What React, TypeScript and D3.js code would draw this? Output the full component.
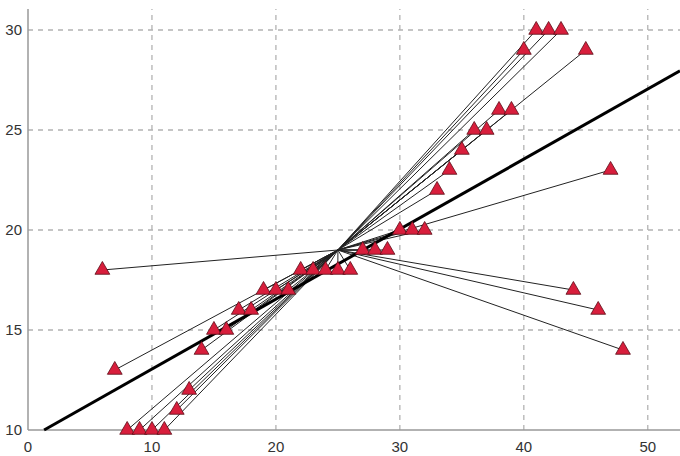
import * as d3 from 'd3';
import React, { useEffect, useRef } from 'react';

// data
const pointsX = [41, 42, 43, 40, 45, 38, 39, 36, 37, 35, 34, 47, 33, 30, 31, 32, 27, 28, 29,
  6, 22, 23, 24, 25, 26, 19, 20, 21, 44, 17, 18, 46, 15, 16, 14, 48, 7, 13, 12, 8, 9, 10, 11];
const pointsY = [30, 30, 30, 29, 29, 26, 26, 25, 25, 24, 23, 23, 22, 20, 20, 20, 19, 19, 19,
  18, 18, 18, 18, 18, 18, 17, 17, 17, 17, 16, 16, 16, 15, 15, 14, 14, 13, 12, 11, 10, 10, 10, 10];
const hub = [25, 19];
const fitIntercept = 9.545;
const fitSlope = 0.35;
const xTicks = [0, 10, 20, 30, 40, 50];
const yTicks = [10, 15, 20, 25, 30];

const W = 680;
const H = 456;

const App = () => {
  const ref = useRef(null);

  useEffect(() => {
    const svg = d3.select(ref.current);
    svg.selectAll('*').remove();

    const x = d3.scaleLinear().domain([0, 52.6]).range([28, 680]);
    const y = d3.scaleLinear().domain([10, 31.05]).range([430, 9]);

    // grid
    const grid = svg.append('g')
      .attr('stroke', '#b3b3b3')
      .attr('stroke-width', 1.3)
      .attr('stroke-dasharray', '5,5');
    grid.selectAll('.gx').data(xTicks.filter(d => d > 0)).enter().append('line')
      .attr('x1', d => x(d)).attr('x2', d => x(d))
      .attr('y1', y.range()[0]).attr('y2', y.range()[1]);
    grid.selectAll('.gy').data(yTicks.filter(d => d > 10)).enter().append('line')
      .attr('y1', d => y(d)).attr('y2', d => y(d))
      .attr('x1', x.range()[0]).attr('x2', x.range()[1]);

    // axes
    svg.append('line')
      .attr('x1', x(0)).attr('x2', x(0)).attr('y1', y.range()[0]).attr('y2', y.range()[1])
      .attr('stroke', '#999').attr('stroke-width', 1.5);
    svg.append('line')
      .attr('x1', x(0)).attr('x2', x.range()[1]).attr('y1', y(10)).attr('y2', y(10))
      .attr('stroke', '#999').attr('stroke-width', 1.5);

    svg.append('g').selectAll('text').data(xTicks).enter().append('text')
      .attr('x', d => x(d)).attr('y', 452)
      .attr('text-anchor', 'middle')
      .attr('font-family', 'Liberation Sans, Arial, sans-serif')
      .attr('font-size', 15).attr('fill', '#333')
      .text(d => d);
    svg.append('g').selectAll('text').data(yTicks).enter().append('text')
      .attr('x', 22).attr('y', d => y(d) + 5)
      .attr('text-anchor', 'end')
      .attr('font-family', 'Liberation Sans, Arial, sans-serif')
      .attr('font-size', 15).attr('fill', '#333')
      .text(d => d);

    const pts = pointsX.map((v, i) => [v, pointsY[i]]);

    // spokes to hub
    svg.append('g').selectAll('line').data(pts).enter().append('line')
      .attr('x1', x(hub[0])).attr('y1', y(hub[1]))
      .attr('x2', d => x(d[0])).attr('y2', d => y(d[1]))
      .attr('stroke', '#222').attr('stroke-width', 1);

    // fitted line
    const xStart = (10 - fitIntercept) / fitSlope;
    const xEnd = x.domain()[1];
    svg.append('line')
      .attr('x1', x(xStart)).attr('y1', y(fitIntercept + fitSlope * xStart))
      .attr('x2', x(xEnd)).attr('y2', y(fitIntercept + fitSlope * xEnd))
      .attr('stroke', '#000').attr('stroke-width', 3);

    // markers
    const tri = d3.symbol().type(d3.symbolTriangle).size(95);
    svg.append('g').selectAll('path').data(pts).enter().append('path')
      .attr('d', tri)
      .attr('transform', d => `translate(${x(d[0])},${y(d[1])})`)
      .attr('fill', '#d81e3c')
      .attr('stroke', '#5a0c16')
      .attr('stroke-width', 0.8);
  }, []);

  return (
    <div>
      <svg ref={ref} width={W} height={H} style={{ position: 'absolute', left: 0, top: 0 }}>
      </svg>
    </div>
  );
};

export default App;
